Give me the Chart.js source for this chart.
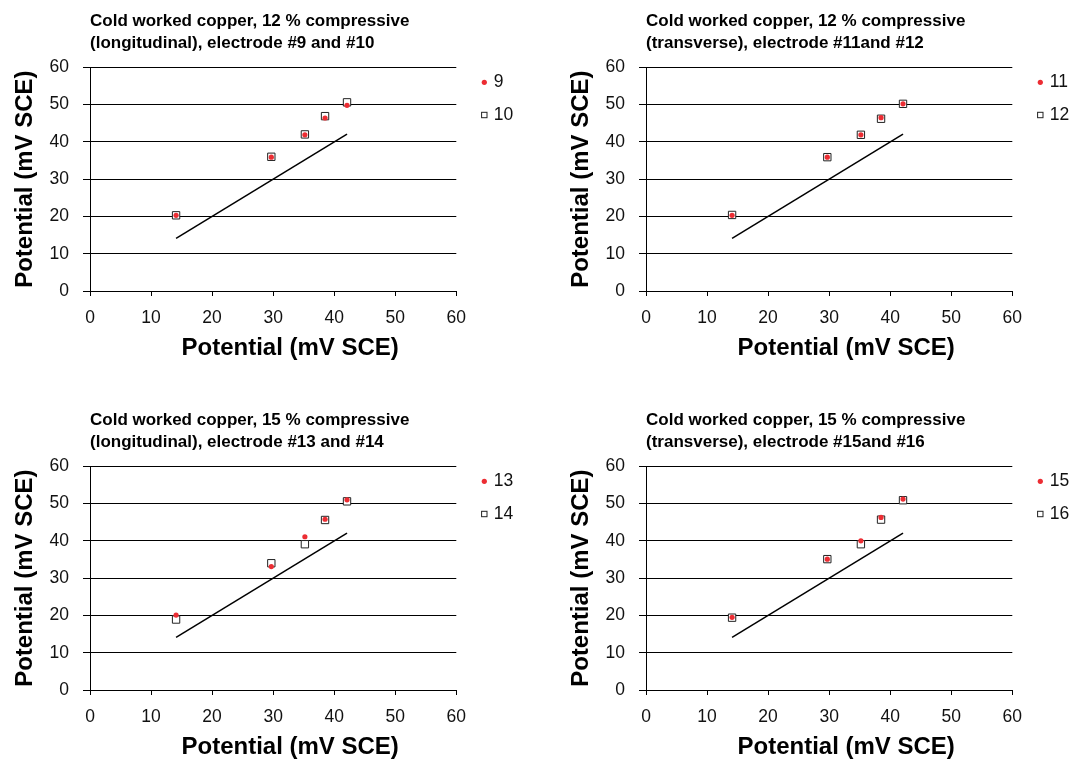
<!DOCTYPE html>
<html lang="en">
<head>
<meta charset="utf-8">
<title>Cold worked copper – electrode potentials</title>
<script src="https://cdn.jsdelivr.net/npm/chart.js@4.4.1/dist/chart.umd.min.js"></script>
<style>
    html, body { margin: 0; padding: 0; background: #fff; }
    body { width: 1073px; height: 760px; position: relative; overflow: hidden; }
    .panel { position: absolute; width: 517px; height: 362px; }
    .panel canvas { display: block; }
</style>
</head>
<body>
<div class="panel" style="left:0;top:0"><canvas id="chart-9-10" width="517" height="362"></canvas></div>
<div class="panel" style="left:556px;top:0"><canvas id="chart-11-12" width="517" height="362"></canvas></div>
<div class="panel" style="left:0;top:399px"><canvas id="chart-13-14" width="517" height="362"></canvas></div>
<div class="panel" style="left:556px;top:399px"><canvas id="chart-15-16" width="517" height="362"></canvas></div>

<script>
/* ------------------------------------------------------------
   Data — potentials in mV SCE
   ------------------------------------------------------------ */
const potentialTicks = [0, 10, 20, 30, 40, 50, 60];

// reference potentials (x) shared by every electrode
const refPotential = [14.1, 29.7, 35.2, 38.5, 42.1];

// y = x guide line
const guideLine = [[14.1, 14.1], [42.1, 42.1]];

// measured potentials per electrode
const electrode9  = [20.3, 35.9, 41.9, 46.4, 49.8];
const electrode10 = [20.3, 36.0, 42.0, 46.9, 50.6];
const electrode11 = [20.3, 35.9, 41.9, 46.5, 50.2];
const electrode12 = [20.4, 35.9, 41.9, 46.2, 50.2];
const electrode13 = [20.1, 33.1, 41.1, 45.8, 51.0];
const electrode14 = [18.9, 34.0, 39.1, 45.6, 50.6];
const electrode15 = [19.5, 35.1, 40.0, 46.3, 51.2];
const electrode16 = [19.4, 35.1, 39.1, 45.7, 50.9];

const panelTitles = {
    'chart-9-10':  ['Cold worked copper, 12 % compressive', '(longitudinal), electrode #9 and #10'],
    'chart-11-12': ['Cold worked copper, 12 % compressive', '(transverse), electrode #11and #12'],
    'chart-13-14': ['Cold worked copper, 15 % compressive', '(longitudinal), electrode #13 and #14'],
    'chart-15-16': ['Cold worked copper, 15 % compressive', '(transverse), electrode #15and #16']
};

const AXIS_LABEL = 'Potential (mV SCE)';
const FONT = '"Liberation Sans", Arial, Helvetica, sans-serif';
const RED = '#ec2d33';

Chart.defaults.font.family = FONT;
Chart.defaults.color = '#111';

/**
 * sideLegend
 * Small legend to the right of the plot area (skips the guide line).
 */
const sideLegend = {
    id: 'sideLegend',
    afterDraw(chart) {
        const { ctx, chartArea } = chart;
        const items = chart.data.datasets.filter(d => d.label);
        ctx.save();
        ctx.font = '17.5px ' + FONT;
        ctx.textBaseline = 'middle';
        items.forEach((ds, i) => {
            const x = chartArea.right + 28;
            const y = chartArea.top + 15 + i * 32.7;
            if (ds.pointStyle === 'rect') {
                ctx.fillStyle = '#fff';
                ctx.fillRect(x - 2.7, y - 2.7, 5.4, 5.4);
                ctx.strokeStyle = '#222';
                ctx.lineWidth = 1;
                ctx.strokeRect(x - 2.7, y - 2.7, 5.4, 5.4);
            } else {
                ctx.fillStyle = ds.backgroundColor;
                ctx.beginPath();
                ctx.arc(x, y, 2.6, 0, Math.PI * 2);
                ctx.fill();
            }
            ctx.fillStyle = '#111';
            ctx.fillText(ds.label, x + 9.5, y);
        });
        ctx.restore();
    }
};

/**
 * xAxisLabel
 * Bottom axis title, set slightly right of the plot centre.
 */
const xAxisLabel = {
    id: 'xAxisLabel',
    afterDraw(chart) {
        const { ctx, chartArea } = chart;
        ctx.save();
        ctx.font = 'bold 24px ' + FONT;
        ctx.fillStyle = '#000';
        ctx.textAlign = 'center';
        ctx.textBaseline = 'middle';
        ctx.fillText(AXIS_LABEL, (chartArea.left + chartArea.right) / 2 + 17, chartArea.bottom + 57);
        ctx.restore();
    }
};

function toPoints(ys) {
    return refPotential.map((x, i) => ({ x: x, y: ys[i] }));
}

function setTicks(scale) {
    scale.ticks = potentialTicks.map(v => ({ value: v }));
}

/**
 * buildPanel
 * One scatter chart: red dot series, open square series and the y = x line.
 */
function buildPanel(id, dotLabel, dotValues, squareLabel, squareValues) {
    const canvas = document.getElementById(id);
    if (!canvas) return;

    new Chart(canvas.getContext('2d'), {
        type: 'scatter',
        data: {
            datasets: [{
                label: dotLabel,
                data: toPoints(dotValues),
                pointStyle: 'circle',
                pointRadius: 2.6,
                pointBorderWidth: 0,
                backgroundColor: RED,
                borderColor: RED,
                order: 0
            }, {
                label: squareLabel,
                data: toPoints(squareValues),
                pointStyle: 'rect',
                pointRadius: 5.2,
                pointBorderWidth: 1,
                backgroundColor: '#fff',
                borderColor: '#222',
                order: 1
            }, {
                label: '',
                data: guideLine.map(p => ({ x: p[0], y: p[1] })),
                showLine: true,
                pointRadius: 0,
                borderColor: '#000',
                borderWidth: 1.5,
                order: 2
            }]
        },
        options: {
            responsive: false,
            animation: false,
            events: [],
            layout: { padding: { left: 0, right: 60.7, top: 0, bottom: 0 } },
            plugins: {
                legend: { display: false },
                tooltip: { enabled: false },
                title: {
                    display: true,
                    text: panelTitles[id],
                    align: 'start',
                    fullSize: false,
                    color: '#000',
                    font: { size: 17, weight: 'bold', lineHeight: 22 / 17 },
                    padding: { top: 10.5, bottom: 12.8 }
                }
            },
            scales: {
                x: {
                    type: 'linear',
                    min: 0,
                    max: 60,
                    afterBuildTicks: setTicks,
                    afterFit: s => { s.height = 71; },
                    grid: { drawOnChartArea: false, drawTicks: true, tickLength: 5, color: '#000' },
                    border: { display: true, color: '#000', width: 1 },
                    ticks: { padding: 12, font: { size: 17.5 }, maxRotation: 0 }
                },
                y: {
                    type: 'linear',
                    min: 0,
                    max: 60,
                    afterBuildTicks: setTicks,
                    afterFit: s => { s.width = 90; },
                    grid: { color: '#000', lineWidth: 1, drawTicks: true, tickLength: 7 },
                    border: { display: true, color: '#000', width: 1 },
                    ticks: { padding: 14, font: { size: 17.5 } },
                    title: {
                        display: true,
                        text: AXIS_LABEL,
                        color: '#000',
                        font: { size: 24, weight: 'bold' },
                        padding: { top: 10.6, bottom: 0 }
                    }
                }
            }
        },
        plugins: [sideLegend, xAxisLabel]
    });
}

document.addEventListener('DOMContentLoaded', () => {
    buildPanel('chart-9-10',  '9',  electrode9,  '10', electrode10);
    buildPanel('chart-11-12', '11', electrode11, '12', electrode12);
    buildPanel('chart-13-14', '13', electrode13, '14', electrode14);
    buildPanel('chart-15-16', '15', electrode15, '16', electrode16);
});
</script>
</body>
</html>
